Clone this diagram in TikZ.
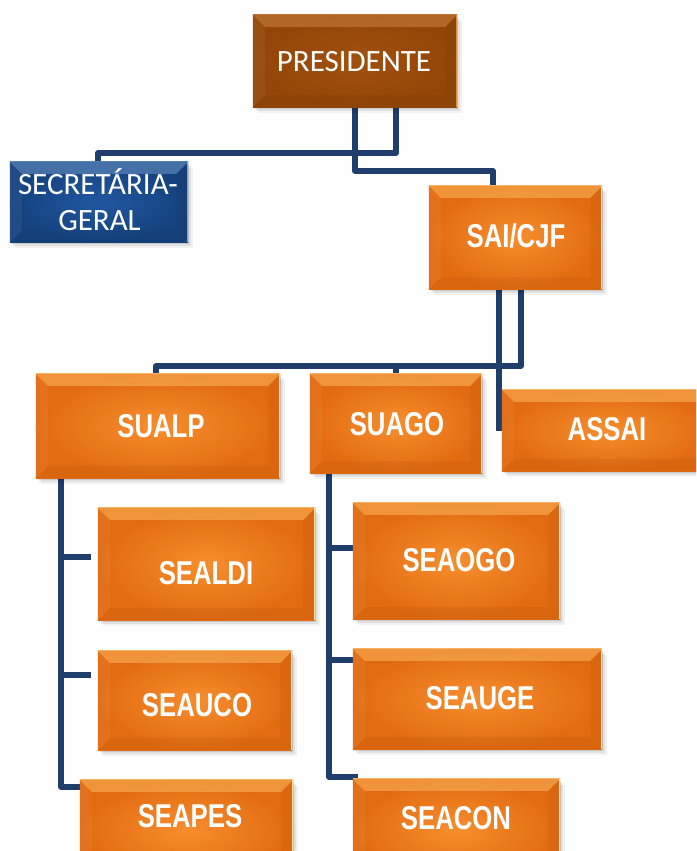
\documentclass[tikz,border=0pt]{standalone}
\usepackage{fontspec}
\newfontfamily\calfont{Carlito}
\newfontfamily\boldfont{Liberation Sans Bold}[FakeStretch=0.78]
\pgfdeclarelayer{back}
\pgfdeclarelayer{bg}
\pgfsetlayers{back,bg,main}
\definecolor{lineblue}{HTML}{1F3E6C}
\definecolor{orin}{HTML}{F68E2E}
\definecolor{orout}{HTML}{E26A10}
\definecolor{orhl}{HTML}{FFE3A0}
\definecolor{ortop}{HTML}{FFC870}
\definecolor{brin}{HTML}{A1500E}
\definecolor{brout}{HTML}{934608}
\definecolor{brhl}{HTML}{D8904A}
\definecolor{brtop}{HTML}{D89050}
\definecolor{blin}{HTML}{2157A0}
\definecolor{blout}{HTML}{15427E}
\definecolor{blhl}{HTML}{7FA8D8}
\definecolor{bltop}{HTML}{7FA8D8}
\def\bw{12}
\newcommand\bbox[6]{%
  \node[boxnode, minimum width={#4-#2}, minimum height={#5-#3}] (#1) at ({(#2+#4)/2},{(#3+#5)/2}) {};
  \foreach \s/\o in {2/0.10,4/0.07,6/0.05}{%
    \fill[black,opacity=\o] ([shift={(\s-1,\s)}]#1.north west) rectangle ([shift={(\s-1,\s)}]#1.south east);}
  \shade[inner color=#6in, outer color=#6out] (#1.north west) rectangle (#1.south east);
  \fill[#6top,opacity=0.45] (#1.north west) -- (#1.north east) -- ([shift={(-\bw,\bw)}]#1.north east) -- ([shift={(\bw,\bw)}]#1.north west) -- cycle;
  \fill[black,opacity=0.04] (#1.south west) -- (#1.south east) -- ([shift={(-\bw,-\bw)}]#1.south east) -- ([shift={(\bw,-\bw)}]#1.south west) -- cycle;
  \fill[white,opacity=0.05] (#1.north west) -- ([shift={(\bw,\bw)}]#1.north west) -- ([shift={(\bw,-\bw)}]#1.south west) -- (#1.south west) -- cycle;
  \fill[black,opacity=0.03] (#1.north east) -- ([shift={(-\bw,\bw)}]#1.north east) -- ([shift={(-\bw,-\bw)}]#1.south east) -- (#1.south east) -- cycle;
  \draw[#6hl, line width=1.5pt] ([xshift=-0.75]#1.north east) -- ([xshift=-0.75]#1.south east);
  \draw[#6hl, line width=1pt, opacity=0.6] ([yshift=0.5]#1.north west) -- ([yshift=0.5]#1.north east);
}
\begin{document}
\begin{tikzpicture}[x=1pt,y=-1pt,
  conn/.style={draw=lineblue, line width=5.5pt, line join=round},
  boxnode/.style={rectangle, inner sep=0pt, draw=none},
  lbl/.style={text=white, font=\boldfont\fontsize{33}{38}\selectfont, anchor=base, inner sep=0pt},
  lblreg/.style={text=white, font=\calfont\fontsize{31}{36}\selectfont, anchor=base, inner sep=0pt}]
\useasboundingbox (0,0) rectangle (696,851);
\clip (0,0) rectangle (696,851);
\begin{pgfonlayer}{back}
\fill[white] (0,0) rectangle (696,851);
\end{pgfonlayer}

\bbox{pres}{253}{15}{457}{107}{br}
\bbox{sec}{10}{162}{188}{242}{bl}
\bbox{sai}{429}{186}{602}{289}{or}
\bbox{sualp}{36}{374}{280}{478}{or}
\bbox{suago}{310}{374}{482}{473}{or}
\bbox{assai}{502}{390}{712}{471}{or}
\bbox{sealdi}{98}{508}{315}{620}{or}
\bbox{seauco}{98}{651}{292}{750}{or}
\bbox{seapes}{80}{780}{293}{880}{or}
\bbox{seaogo}{353}{503}{560}{619}{or}
\bbox{seauge}{353}{649}{602}{749}{or}
\bbox{seacon}{353}{779}{560}{880}{or}

\node[lblreg] (tpres) at (354,71) {PRESIDENTE};
\node[lblreg] (tsec1) at (98,194) {SECRETÁRIA-};
\node[lblreg] (tsec2) at (99.5,230) {GERAL};
\node[lbl] (tsai) at (516,247) {SAI/CJF};
\node[lbl] (tsualp) at (161,437) {SUALP};
\node[lbl] (tsuago) at (397,435) {SUAGO};
\node[lbl] (tassai) at (607,440) {ASSAI};
\node[lbl] (tsealdi) at (206,584) {SEALDI};
\node[lbl] (tseauco) at (197,716) {SEAUCO};
\node[lbl] (tseapes) at (190,827) {SEAPES};
\node[lbl] (tseaogo) at (459,571) {SEAOGO};
\node[lbl] (tseauge) at (480,709) {SEAUGE};
\node[lbl] (tseacon) at (456,829) {SEACON};

\begin{pgfonlayer}{bg}
\draw[conn] (pres.south -| 396,0) -- (396,153) -- (98,153) -- (sec.north -| 98,0);
\draw[conn] (pres.south -| 355,0) -- (355,171) -- (493,171) -- (sai.north -| 493,0);
\draw[conn] (sai.south -| 521,0) -- (521,366) -- (156,366) -- (sualp.north -| 156,0);
\draw[conn] (396,366) -- (suago.north -| 396,0);
\coordinate (assaiend) at (assai.west -| 499,0);
\draw[conn] (sai.south -| 499,0) -- (assaiend);
\draw[conn] (sualp.south -| 61,0) -- (61,787) -- (seapes.west |- 0,787);
\draw[conn, shorten >=7pt] (61,557) -- (sealdi.west |- 0,557);
\draw[conn, shorten >=7pt] (61,675) -- (seauco.west |- 0,675);
\draw[conn] (suago.south -| 329,0) -- (329,777) -- ([xshift=5]seacon.west |- 0,777);
\draw[conn] (329,548) -- (seaogo.west |- 0,548);
\draw[conn] (329,660) -- (seauge.west |- 0,660);
\end{pgfonlayer}
\end{tikzpicture}
\end{document}
